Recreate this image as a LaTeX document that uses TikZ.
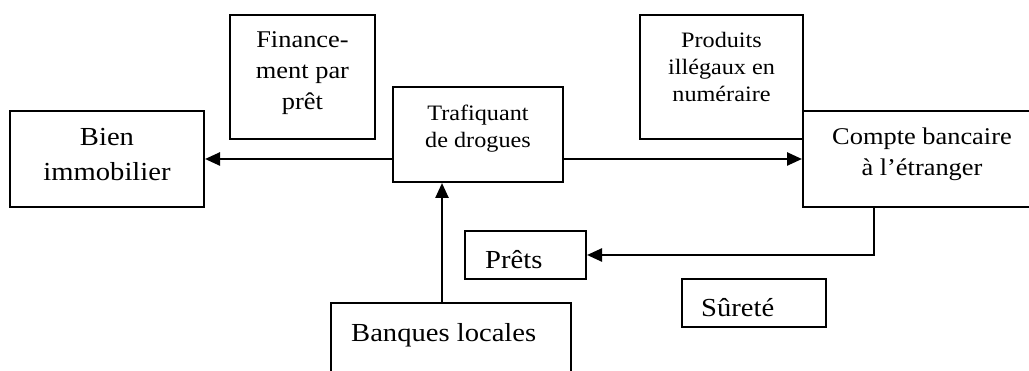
\documentclass[tikz,border=0pt]{standalone}
\usepackage{fontspec}
\setmainfont[FakeStretch=1.1]{Liberation Serif}
\usetikzlibrary{positioning, arrows.meta, calc}

\begin{document}
\begin{tikzpicture}[
    x=1pt, y=-1pt,
    box/.style={
        rectangle,
        draw=black,
        fill=white,
        inner sep=0pt,
        line width=2pt
    },
    arrow/.style={
        -{Triangle[length=15pt, width=13pt]},
        line width=2.5pt,
        color=black
    },
    bigtxt/.style={
        font=\fontsize{26}{35}\selectfont,
        inner sep=0pt,
        align=center
    },
    midtxt/.style={
        font=\fontsize{24}{31}\selectfont,
        inner sep=0pt,
        align=center
    },
    smalltxt/.style={
        font=\fontsize{22}{27}\selectfont,
        inner sep=0pt,
        align=center
    }
]
\useasboundingbox (0,0) rectangle (1029,371);

% Boxes
\node[box, minimum width=145pt, minimum height=124pt] (fin)    at (302.5, 77)   {};
\node[box, minimum width=194pt, minimum height=96pt]  (bien)   at (107, 159)    {};
\node[box, minimum width=170pt, minimum height=95pt]  (traf)   at (478, 134.5)  {};
\node[box, minimum width=242pt, minimum height=96pt]  (compte) at (924, 159)    {};
\node[box, minimum width=163pt, minimum height=124pt] (prod)   at (721.5, 77)   {};
\node[box, minimum width=121pt, minimum height=48pt]  (prets)  at (525.5, 255)  {};
\node[box, minimum width=144pt, minimum height=48pt]  (surete) at (754, 303)    {};
\node[box, minimum width=240pt, minimum height=97pt]  (banq)   at (451, 351.5)  {};

% Texts
\node[midtxt, anchor=north]   (fintxt)    at ($(fin.north)+(0,17.5)$)    {Finance-\\ment par\\prêt};
\node[bigtxt, anchor=north]   (bientxt)   at ($(bien.north)+(0,18)$)     {Bien\\immobilier};
\node[smalltxt, anchor=north] (traftxt)   at ($(traf.north)+(0,19)$)     {Trafiquant\\de drogues};
\node[smalltxt, anchor=north] (prodtxt)   at ($(prod.north)+(0,18)$)     {Produits\\illégaux en\\numéraire};
\node[midtxt, anchor=north]   (comptetxt) at ($(compte.north)+(-2,17.5)$) {Compte bancaire\\à l’étranger};
\node[bigtxt, anchor=north west] (pretstxt)  at ($(prets.north west)+(21,20.5)$)  {Prêts};
\node[bigtxt, anchor=north west] (suretetxt) at ($(surete.north west)+(20,20.5)$) {Sûreté};
\node[bigtxt, anchor=north west] (banqtxt)   at ($(banq.north west)+(21,21)$)     {Banques locales};

% Connectors
\draw[arrow] (traf.west |- bien.east) -- (bien.east);
\draw[arrow] (traf.east |- compte.west) -- (compte.west);

\coordinate (bup) at ($(banq.north)+(-9,0)$);
\draw[arrow] (bup) -- (bup |- traf.south);

\coordinate (cdown) at ($(compte.south)+(-50,0)$);
\draw[arrow] (cdown) |- (prets.east);

\end{tikzpicture}
\end{document}
